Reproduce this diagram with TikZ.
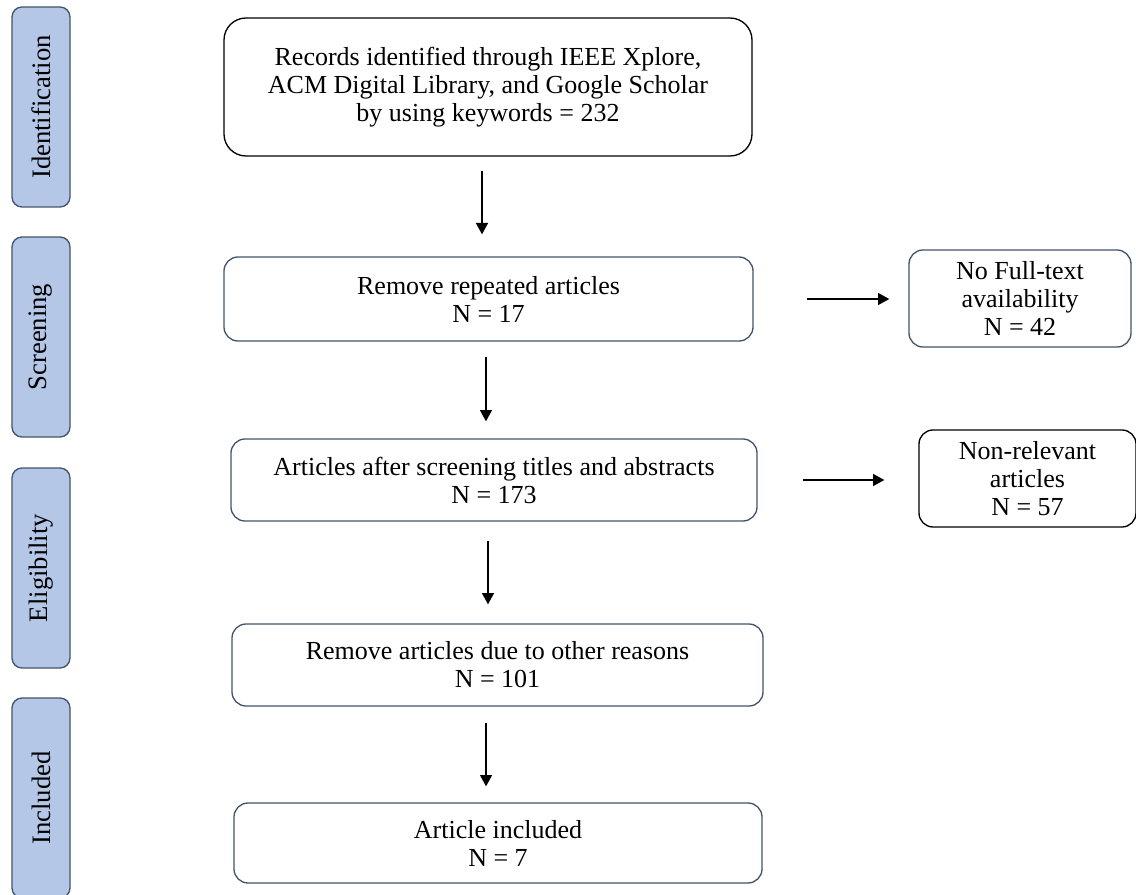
\documentclass[tikz,border=0pt]{standalone}
\usepackage{fontspec}
\setmainfont{Liberation Serif}
\usepackage{xcolor}
\usetikzlibrary{arrows.meta}
\definecolor{phasefill}{HTML}{B4C7E7}
\definecolor{phaseline}{HTML}{44546A}

\begin{document}
\begin{tikzpicture}[x=0.75pt, y=-0.75pt,
    phase/.style={draw=phaseline, fill=phasefill, line width=1pt, rounded corners=7.5pt,
        rotate=90, minimum width=150pt, minimum height=43.5pt, inner sep=0pt,
        font=\fontsize{20}{22}\selectfont},
    stage/.style={draw=phaseline, line width=1pt, rounded corners=10.5pt, align=center,
        inner sep=0pt, font=\fontsize{19.5}{21}\selectfont},
    flow/.style={-{Triangle[length=8.5pt,width=9pt]}, line width=1.1pt}]
    \useasboundingbox (0,0) rectangle (1136,895);

    % phase labels
    \node [phase] (ID) at (41,107) {Identification};
    \node [phase] (SC) at (41,337) {Screening};
    \node [phase] (EL) at (41,568) {Eligibility};
    \node [phase] (IN) at (41,798) {Included};

    % main stages
    \node [stage, draw=black, rounded corners=16.5pt, minimum width=396pt, minimum height=103.5pt] (REC) at (488,87)
        {Records identified through IEEE Xplore,\\ACM Digital Library, and Google Scholar\\by using keywords = 232};
    \node [stage, minimum width=396.75pt, minimum height=63pt] (REP) at (488.5,299) {Remove repeated articles\\N = 17};
    \node [stage, minimum width=394.5pt, minimum height=61.5pt] (SCR) at (494,480) {Articles after screening titles and abstracts\\N = 173};
    \node [stage, minimum width=398.25pt, minimum height=61.5pt] (OTH) at (497.5,665) {Remove articles due to other reasons\\N = 101};
    \node [stage, minimum width=396pt, minimum height=60pt] (INC) at (498,843) {Article included\\N = 7};

    % excluded records
    \node [stage, minimum width=166.5pt, minimum height=72.75pt] (NFT) at (1020,298.5) {No Full-text\\availability\\N = 42};
    \node [stage, draw=black, minimum width=162.75pt, minimum height=72.75pt] (NRA) at (1027.5,478.5) {Non-relevant\\articles\\N = 57};

    \draw [flow, shorten <=10.5pt, shorten >=16.5pt] ([xshift=-4.5pt]REC.south) -- ([xshift=-4.5pt]REC.south |- REP.north);
    \draw [flow, shorten <=11.25pt, shorten >=12.75pt] ([xshift=-1.9pt]REP.south) -- ([xshift=-1.9pt]REP.south |- SCR.north);
    \draw [flow, shorten <=14.25pt, shorten >=14.25pt] ([xshift=-4.5pt]SCR.south) -- ([xshift=-4.5pt]SCR.south |- OTH.north);
    \draw [flow, shorten <=12pt, shorten >=12pt] ([xshift=-8.6pt]OTH.south) -- ([xshift=-8.6pt]OTH.south |- INC.north);
    \draw [flow, shorten <=39.75pt, shorten >=14.25pt] (REP.east) -- (REP.east -| NFT.west);
    \draw [flow, shorten <=33.75pt, shorten >=25.5pt] (SCR.east) -- (SCR.east -| NRA.west);
\end{tikzpicture}
\end{document}
